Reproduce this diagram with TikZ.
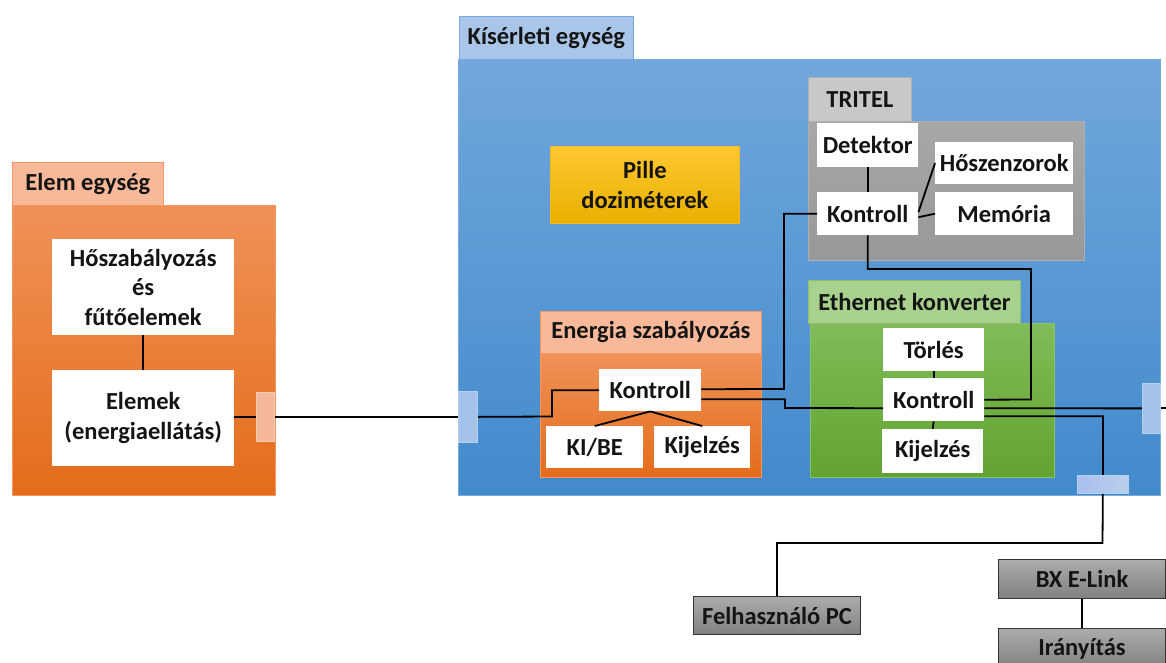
\documentclass[tikz,border=0pt]{standalone}
\usepackage{fontspec}
\setmainfont{Carlito}
\usetikzlibrary{calc}
\pgfdeclarelayer{fg}
\pgfsetlayers{main,fg}
\definecolor{orTab}{RGB}{248,185,154}
\definecolor{orTop}{RGB}{240,146,88}
\definecolor{orBot}{RGB}{228,108,26}
\definecolor{orEdge}{RGB}{244,150,95}
\definecolor{blTab}{RGB}{169,198,232}
\definecolor{blTop}{RGB}{113,167,220}
\definecolor{blBot}{RGB}{66,138,204}
\definecolor{blEdge}{RGB}{120,170,222}
\definecolor{blPort}{RGB}{165,195,232}
\definecolor{blPortEdge}{RGB}{185,208,236}
\definecolor{orPort}{RGB}{245,184,154}
\definecolor{orPortEdge}{RGB}{249,203,180}
\definecolor{yeTop}{RGB}{255,200,50}
\definecolor{yeBot}{RGB}{232,176,0}
\definecolor{yeEdge}{RGB}{245,185,40}
\definecolor{grTab}{RGB}{200,200,200}
\definecolor{grTabEdge}{RGB}{175,175,175}
\definecolor{grTop}{RGB}{168,168,168}
\definecolor{grBot}{RGB}{152,152,152}
\definecolor{gnTab}{RGB}{169,209,142}
\definecolor{gnTabEdge}{RGB}{140,195,105}
\definecolor{gnTop}{RGB}{128,188,88}
\definecolor{gnBot}{RGB}{98,163,48}
\definecolor{dkTop}{RGB}{172,172,172}
\definecolor{dkBot}{RGB}{128,128,128}
\definecolor{txtc}{RGB}{20,20,20}
\begin{document}
\begin{tikzpicture}[x=1pt,y=-1pt,
  txt/.style={font=\bfseries\fontsize{24.5}{29.5}\selectfont, text=txtc, align=center, inner sep=0pt, anchor=north west},
  sz/.style 2 args={minimum width=#1pt, minimum height=#2pt},
  wbox/.style={txt, fill=white},
  orangetab/.style={txt, fill=orTab, draw=orEdge, line width=0.8pt},
  orangemain/.style={txt, top color=orTop, bottom color=orBot, draw=orEdge, line width=0.8pt},
  bluetab/.style={txt, fill=blTab, draw=blEdge, line width=0.8pt},
  bluemain/.style={txt, top color=blTop, bottom color=blBot, draw=blEdge, line width=0.8pt},
  yellowbox/.style={txt, top color=yeTop, bottom color=yeBot, draw=yeEdge, line width=0.8pt},
  greytab/.style={txt, fill=grTab, draw=grTabEdge, line width=0.8pt},
  greymain/.style={txt, top color=grTop, bottom color=grBot, draw=grTabEdge, line width=0.8pt},
  greentab/.style={txt, fill=gnTab, draw=gnTabEdge, line width=0.8pt},
  greenmain/.style={txt, top color=gnTop, bottom color=gnBot, draw=gnTabEdge, line width=0.8pt},
  darkbox/.style={txt, top color=dkTop, bottom color=dkBot, draw=black!80, line width=1pt},
  oport/.style={inner sep=0pt, anchor=north west, fill=orPort, draw=orPortEdge, line width=0.8pt},
  bport/.style={inner sep=0pt, anchor=north west, fill=blPort, draw=blPortEdge, line width=0.8pt},
  conn/.style={draw=black, line width=1.8pt}
]
\clip (0,0) rectangle (1166,662);
\fill[white] (0,0) rectangle (1166,662);

% Elem egység
\node[orangetab, sz={151}{43}] (elemTab) at (12,162) {Elem egység};
\node[orangemain, sz={263}{290}] (elemMain) at (12,205) {};
\node[wbox, sz={182}{96}] (hoszab) at (52,239) {Hőszabályozás\\és\\fűtőelemek};
\node[wbox, sz={182}{96}] (elemek) at (52,370) {Elemek\\(energiaellátás)};

% Kísérleti egység
\node[bluetab, sz={174}{43}] (kisTab) at (459,16) {Kísérleti egység};
\node[bluemain, sz={702}{436}] (kisMain) at (458,59) {};
\node[yellowbox, sz={189}{77}] (pille) at (550,146) {Pille\\doziméterek};

% TRITEL
\node[greytab, sz={103}{44}] (triTab) at (808,77) {TRITEL};
\node[greymain, sz={276}{139}] (triMain) at (808,121) {};
\node[wbox, sz={101}{44}] (det) at (817,123) {Detektor};
\node[wbox, sz={101}{43}] (trK) at (817,192) {Kontroll};
\node[wbox, sz={138}{42}] (hoszen) at (935,142) {Hőszenzorok};
\node[wbox, sz={138}{43}] (mem) at (935,192) {Memória};

% Energia szabályozás
\node[orangetab, sz={221}{42}] (enHead) at (540,311) {Energia szabályozás};
\node[orangemain, sz={221}{124}] (enMain) at (540,353) {};
\node[wbox, sz={102}{42}] (enK) at (599,369) {Kontroll};
\node[wbox, sz={97}{42}] (kibe) at (546,426) {KI/BE};
\node[wbox, sz={96}{42}] (kij) at (654,426) {Kijelzés};

% Ethernet konverter
\node[greentab, sz={212}{43}] (ethTab) at (808,280) {Ethernet konverter};
\node[greenmain, sz={244}{154}] (ethMain) at (810,323) {};
\node[wbox, sz={101}{43}] (torles) at (883,328) {Törlés};
\node[wbox, sz={101}{43}] (ethK) at (883,378) {Kontroll};
\node[wbox, sz={101}{44}] (ethKij) at (882,429) {Kijelzés};

% external boxes
\node[darkbox, sz={167}{38}] (pc) at (693,596) {Felhasználó PC};
\node[darkbox, sz={167}{39}] (bx) at (998,559) {BX E-Link};
\node[darkbox, sz={167}{40}] (iran) at (998,628) {Irányítás};

% ports
\begin{pgfonlayer}{fg}
\node[oport, sz={18}{49}] (portE) at (256,392) {};
\node[bport, sz={19}{51}] (portK) at (458,391) {};
\node[bport, sz={18}{50}] (portR) at (1142,383) {};
\node[inner sep=0pt, anchor=north west, left color=blPort!90!blue!80!white, right color=blPortEdge, draw=blPortEdge, line width=0.8pt, sz={51}{18}] (portB) at (1077,475) {};
\end{pgfonlayer}
\coordinate (offR) at (1166,408);

% connectors
\draw[conn] (hoszab.south) -- (elemek.north);
\draw[conn] (elemek.east |- portE.center) -- (portE.center) -- (portK.center);
\draw[conn] (portK.center) -- (552,416.5) |- (enK.west);
\draw[conn] (enK.south) -- (kibe.north);
\draw[conn] (enK.south) -- (kij.north);
\draw[conn] ($(enK.east)+(0,-1)$) -- (784,389) |- (trK.west);
\draw[conn] ($(enK.east)+(0,9)$) -| (785,408) -- ($(ethK.west)+(0,8.5)$);
\draw[conn] (det.south) -- (trK.north);
\draw[conn] ($(trK.east)+(0,-1.5)$) -- (hoszen.west);
\draw[conn] ($(trK.east)+(0,3.5)$) -- (mem.west);
\draw[conn] (trK.south) |- (1031,269) -- (1031,399.5) -- (ethK.east);
\draw[conn] (torles.south) -- (ethK.north);
\draw[conn] (ethK.south) -- (ethKij.north);
\draw[conn] ($(ethK.east)+(0,8.5)$) -- (portR.center) -- (offR);
\draw[conn] ($(ethK.east)+(0,16.5)$) -| (portB.center) -- (1102.5,543) -| (pc.north);
\draw[conn] (bx.south) -- (iran.north);
\end{tikzpicture}
\end{document}
